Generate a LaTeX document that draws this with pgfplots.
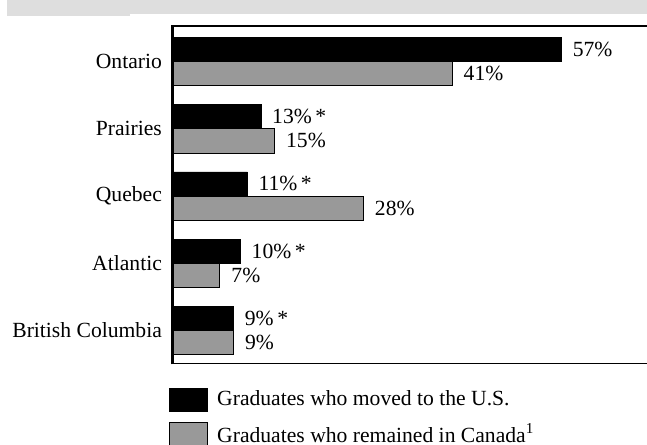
\documentclass[border=0pt]{standalone}
\usepackage{pgfplots}
\pgfplotsset{compat=1.18}
\usepackage{fontspec}
\setmainfont{Liberation Serif}
\definecolor{band}{HTML}{DEDEDE}
\definecolor{bargray}{HTML}{999999}
\begin{document}
\begin{tikzpicture}[font=\fontsize{16.2}{19}\selectfont]
\path[use as bounding box] (0pt,0pt) rectangle (484.8pt,333pt);
\fill[band] (5.25pt,321pt) rectangle (97.5pt,333pt);
\fill[band] (97.5pt,322.5pt) rectangle (486pt,333pt);
\begin{axis}[
  at={(129pt,60.75pt)}, anchor=south west,
  scale only axis, width=356.25pt, height=252.75pt,
  xbar, bar width=0.36,
  xmin=0, xmax=69.6, ymin=-0.53, ymax=4.49, y dir=reverse,
  ytick={0,1,2,3,4},
  yticklabels={Ontario,Prairies,Quebec,Atlantic,British Columbia},
  xtick=\empty, major tick length=0pt,
  hide x axis,
  axis y line*=left,
  y axis line style={draw=none},
  ytick style={draw=none},
  yticklabel style={inner sep=0pt, xshift=-7.5pt},
  clip=false,
  point meta=explicit symbolic,
  nodes near coords, nodes near coords align=horizontal,
  every node near coord/.append style={anchor=west, inner sep=0pt, xshift=8.25pt},
  legend image code/.code={\draw[#1] (0pt,-8.6pt) rectangle (28.5pt,8.6pt);},
  legend style={at={(axis description cs:-0.0063,-0.072)}, anchor=north west,
    draw=none, fill=none, inner sep=0pt, outer sep=0pt,
    row sep=8.3pt, column sep=6.75pt,
    nodes={inner sep=0pt}},
  legend cell align=left,
]
\addplot[fill=black, draw=black, line width=0.4pt, bar shift=-0.18] coordinates {
  (57,0) [57\%]
  (13,1) [13\%\,*]
  (11,2) [11\%\,*]
  (10,3) [10\%\,*]
  (9,4)  [9\%\,*]
};
\addplot[fill=bargray, draw=black, line width=0.75pt, bar shift=0.18] coordinates {
  (41,0) [41\%]
  (15,1) [15\%]
  (28,2) [28\%]
  (7,3)  [7\%]
  (9,4)  [9\%]
};
\legend{Graduates who moved to the U.S., Graduates who remained in Canada\textsuperscript{1}}
\draw[line width=2.25pt] (axis description cs:0,-0.003) -- (axis description cs:0,1.003);
\draw[line width=1.5pt] (axis description cs:0,1) -- (axis description cs:1,1);
\draw[line width=1.2pt] (axis description cs:0,0) -- (axis description cs:1,0);
\end{axis}
\end{tikzpicture}
\end{document}
